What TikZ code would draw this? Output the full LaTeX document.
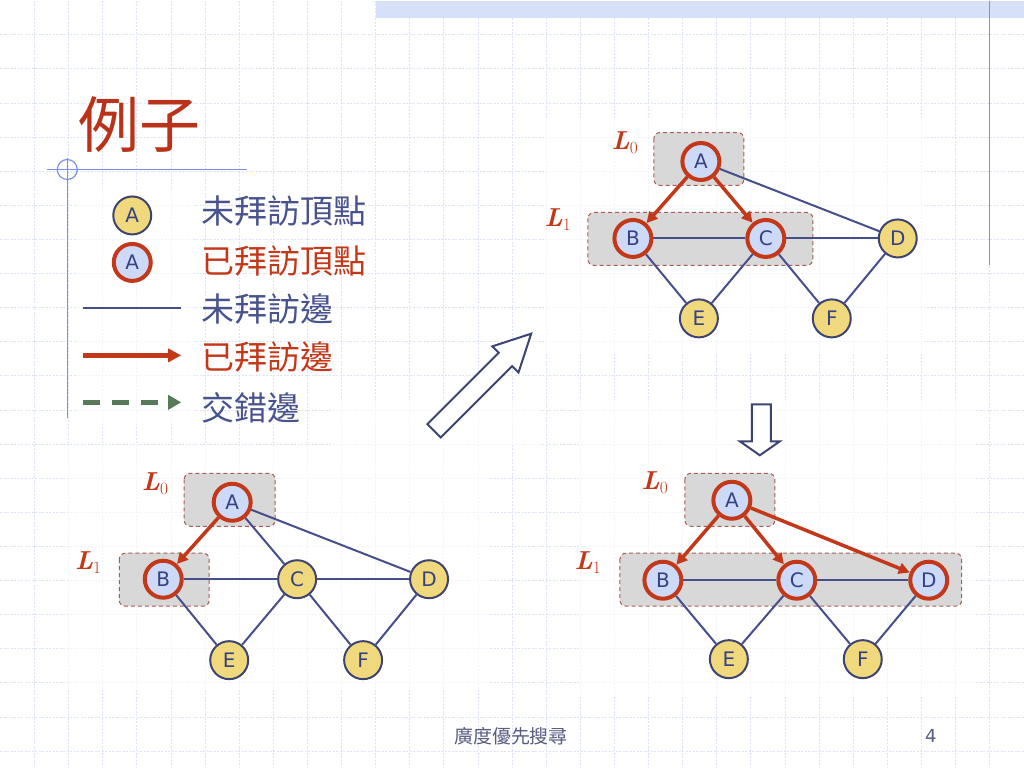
\documentclass[tikz,border=0pt]{standalone}
\usepackage{amsmath}
\usepackage{fontspec}
\usepackage{tikz}
\usetikzlibrary{arrows.meta}
\newfontfamily\cjk{Noto Sans CJK TC}
\newfontfamily\nodefont{DejaVu Sans}
\definecolor{gridblue}{RGB}{222,228,247}
\definecolor{bandblue}{RGB}{214,224,247}
\definecolor{rulerblue}{RGB}{125,145,228}
\definecolor{titlered}{RGB}{185,50,25}
\definecolor{vred}{RGB}{196,56,26}
\definecolor{edgeblue}{RGB}{70,78,140}
\definecolor{nodeblue}{RGB}{62,68,112}
\definecolor{letterblue}{RGB}{55,65,130}
\definecolor{nodeyellow}{RGB}{240,217,124}
\definecolor{nodelight}{RGB}{204,218,248}
\definecolor{boxgray}{RGB}{216,216,216}
\definecolor{boxred}{RGB}{168,92,82}
\definecolor{legblue}{RGB}{72,82,140}
\definecolor{xgreen}{RGB}{88,122,88}
\definecolor{footgray}{RGB}{88,92,128}

\begin{document}
\begin{tikzpicture}[x=1pt, y=-1pt,
    gridline/.style={draw=gridblue, line width=0.7pt, dash pattern=on 2pt off 1.5pt},
    panel/.style={fill=white, opacity=0.6},
    unvis/.style={circle, draw=nodeblue, line width=2pt, fill=nodeyellow, minimum size=38pt,
        inner sep=0pt, text=letterblue, font=\nodefont\fontsize{20}{24}\selectfont},
    vis/.style={unvis, draw=vred, line width=4pt, fill=nodelight, minimum size=37pt},
    edge/.style={draw=edgeblue, line width=2pt},
    tree/.style={draw=vred, line width=3.5pt, -{Triangle[length=11pt,width=11pt]}},
    level/.style={draw=boxred, fill=boxgray, line width=1pt, rounded corners=6pt,
        dash pattern=on 4pt off 3pt},
    llabel/.style={text=vred, inner sep=0pt, font=\fontsize{26}{28}\selectfont},
    legtext/.style={anchor=west, inner sep=0pt, font=\cjk\fontsize{33}{36}\selectfont},
    hollow/.style={draw=nodeblue, line width=2pt, fill=white, line join=miter}]

    % background, grid and slide ornaments
    \fill[white] (0,0) rectangle (1024,768);
    \foreach \i in {1,...,29}
        \draw[gridline] ({\i*34.133},0) -- ({\i*34.133},768);
    \foreach \j in {1,...,22}
        \draw[gridline] (0,{\j*34.133}) -- (1024,{\j*34.133});
    \fill[bandblue] (376,0) rectangle (1024,17);
    \draw[rulerblue, line width=1.2pt] (990,0) -- (990,265);
    \draw[rulerblue, line width=1.2pt] (47,169) -- (247,169);
    \draw[rulerblue, line width=1.2pt] (67,158) -- (67,418);
    \draw[rulerblue, line width=1.2pt] (67,169) circle (10);

    % pasted panels
    \fill[panel] (77,190) rectangle (193,425);
    \fill[panel] (333,400) rectangle (540,445);
    \fill[panel] (545,118) rectangle (925,352);
    \fill[panel] (68,445) rectangle (490,690);
    \fill[panel] (580,400) rectangle (975,695);

    % title
    \node[anchor=west, inner sep=0pt, text=titlered, font=\cjk\fontsize{61}{64}\selectfont]
        (title) at (78,124) {例子};

    % legend
    \node[unvis] (legU) at (132,215) {A};
    \node[vis] (legV) at (132,262) {A};
    \coordinate (e1s) at (83,308);  \coordinate (e1e) at (181,308);
    \coordinate (e2s) at (83,355);  \coordinate (e2e) at (181,355);
    \coordinate (e3s) at (83,402);  \coordinate (e3e) at (181,402);
    \draw[edge] (e1s) -- (e1e);
    \draw[draw=vred, line width=4.5pt, -{Triangle[length=13pt,width=13pt]}] (e2s) -- (e2e);
    \draw[draw=xgreen, line width=4.5pt, dash pattern=on 17pt off 12pt,
        -{Triangle[length=13pt,width=14pt]}] (e3s) -- (e3e);
    \node[legtext, text=legblue] (t1) at (201,211) {未拜訪頂點};
    \node[legtext, text=vred] (t2) at (201,261) {已拜訪頂點};
    \node[legtext, text=legblue] (t3) at (201,309) {未拜訪邊};
    \node[legtext, text=vred] (t4) at (201,357) {已拜訪邊};
    \node[legtext, text=legblue] (t5) at (201,408) {交錯邊};

    % step arrows
    \draw[hollow] (427.3,423.8) -- (498.7,352.4) -- (492.3,346.0) -- (531.2,333.3)
        -- (518.5,372.2) -- (512.1,365.8) -- (440.7,437.2) -- cycle;
    \draw[hollow] (752,404) -- (771,404) -- (771,441) -- (780,441) -- (760,455)
        -- (740,441) -- (752,441) -- cycle;

    % top right: A, B, C visited
    \draw[level] (654,132) rectangle (744,185);
    \draw[level] (588,212) rectangle (813,265);
    \node[llabel] (tL0) at (625,142) {\textbf{\textit{L}}$_0$};
    \node[llabel] (tL1) at (558,219) {\textbf{\textit{L}}$_1$};
    \node[vis] (tA) at (701,161) {A};
    \node[vis] (tB) at (633,238) {B};
    \node[vis] (tC) at (766,238) {C};
    \node[unvis] (tD) at (898,238) {D};
    \node[unvis] (tE) at (699,318) {E};
    \node[unvis] (tF) at (832,318) {F};
    \draw[edge] (tA) -- (tD);
    \draw[edge] (tB) -- (tC);
    \draw[edge] (tC) -- (tD);
    \draw[edge] (tB) -- (tE);
    \draw[edge] (tC) -- (tE);
    \draw[edge] (tC) -- (tF);
    \draw[edge] (tD) -- (tF);
    \draw[tree] (tA) -- (tB);
    \draw[tree] (tA) -- (tC);

    % bottom left: A, B visited
    \draw[level] (184,473) rectangle (275,526);
    \draw[level] (119,553) rectangle (209,606);
    \node[llabel] (lL0) at (155,483) {\textbf{\textit{L}}$_0$};
    \node[llabel] (lL1) at (88,562) {\textbf{\textit{L}}$_1$};
    \node[vis] (lA) at (232,502) {A};
    \node[vis] (lB) at (163,579) {B};
    \node[unvis] (lC) at (297,579) {C};
    \node[unvis] (lD) at (429,579) {D};
    \node[unvis] (lE) at (229,660) {E};
    \node[unvis] (lF) at (363,660) {F};
    \draw[edge] (lA) -- (lC);
    \draw[edge] (lA) -- (lD);
    \draw[edge] (lB) -- (lC);
    \draw[edge] (lC) -- (lD);
    \draw[edge] (lB) -- (lE);
    \draw[edge] (lC) -- (lE);
    \draw[edge] (lC) -- (lF);
    \draw[edge] (lD) -- (lF);
    \draw[tree] (lA) -- (lB);

    % bottom right: A, B, C, D visited
    \draw[level] (685,473) rectangle (775,526);
    \draw[level] (620,553) rectangle (962,606);
    \node[llabel] (rL0) at (655,482) {\textbf{\textit{L}}$_0$};
    \node[llabel] (rL1) at (588,562) {\textbf{\textit{L}}$_1$};
    \node[vis] (rA) at (732,500) {A};
    \node[vis] (rB) at (663,580) {B};
    \node[vis] (rC) at (797,580) {C};
    \node[vis] (rD) at (929,580) {D};
    \node[unvis] (rE) at (729,659) {E};
    \node[unvis] (rF) at (863,659) {F};
    \draw[edge] (rB) -- (rC);
    \draw[edge] (rC) -- (rD);
    \draw[edge] (rB) -- (rE);
    \draw[edge] (rC) -- (rE);
    \draw[edge] (rC) -- (rF);
    \draw[edge] (rD) -- (rF);
    \draw[tree] (rA) -- (rB);
    \draw[tree] (rA) -- (rC);
    \draw[tree] (rA) -- (rD);

    % footer
    \node[text=footgray, font=\cjk\fontsize{19}{22}\selectfont] (foot) at (511,736) {廣度優先搜尋};
    \node[text=footgray, font=\nodefont\fontsize{18}{22}\selectfont] (page) at (931,736) {4};
\end{tikzpicture}
\end{document}
